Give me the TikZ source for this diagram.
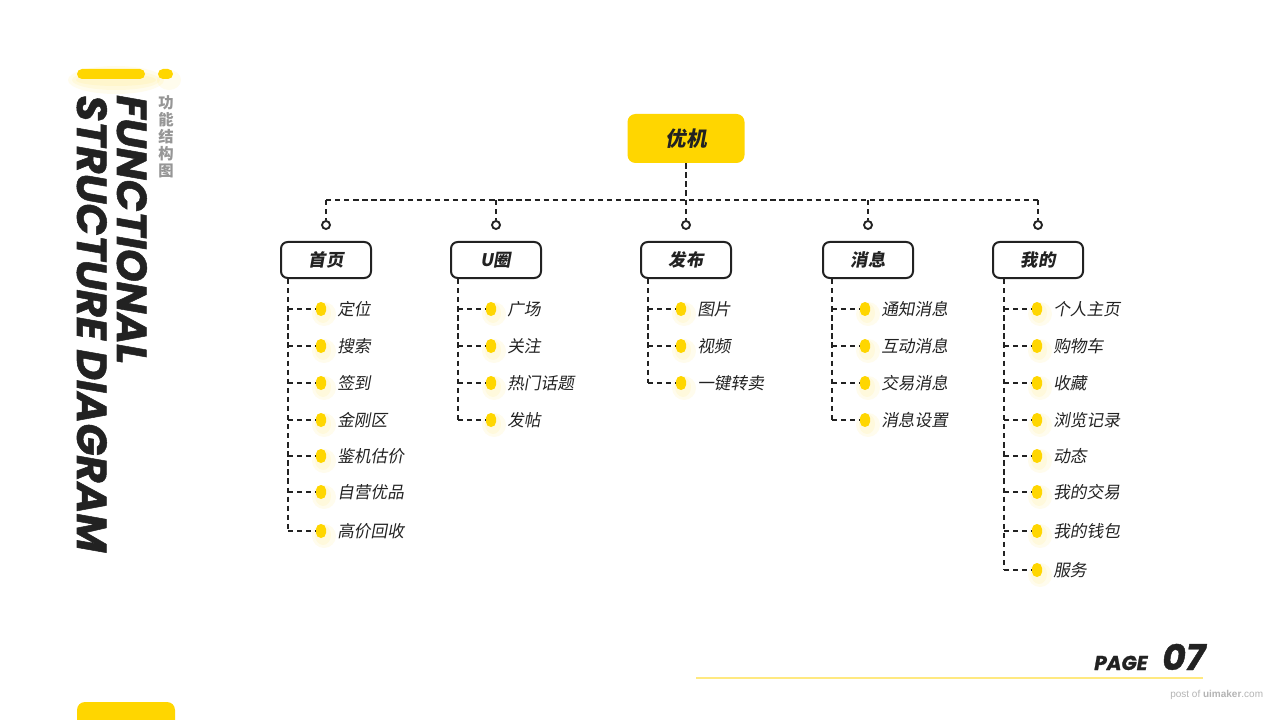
\documentclass[tikz,border=0pt]{standalone}
\usepackage{fontspec}
\usetikzlibrary{positioning}
\newfontfamily\cjk[FakeSlant=0.18]{Noto Sans CJK SC}
\newfontfamily\cjkup{Noto Sans CJK SC}
\newfontfamily\titlefont[FakeBold=1.2]{Poppins}
\newfontfamily\smallfont{Liberation Sans}
\definecolor{UMyellow}{RGB}{255,214,0}
\definecolor{UMpale}{RGB}{255,233,128}
\definecolor{UMdark}{RGB}{34,34,34}
\definecolor{UMgray}{RGB}{150,150,150}
\definecolor{UMlight}{RGB}{180,180,180}
\tikzset{
  root/.style={rounded corners=6pt,fill=UMyellow,minimum width=87.75pt,minimum height=36.75pt,
               font=\cjk\bfseries\fontsize{15.5}{15.5}\selectfont,text=UMdark},
  cat/.style={rounded corners=5pt,draw=UMdark,line width=1.5pt,fill=white,
              minimum width=67.5pt,minimum height=27pt,
              font=\cjk\bfseries\fontsize{13}{13}\selectfont,text=UMdark},
  pill/.style={rounded corners=3.75pt,fill=UMyellow,minimum width=7.5pt,minimum height=10.5pt,inner sep=0pt},
  item/.style={anchor=west,inner sep=0pt,font=\cjk\fontsize{12.5}{12.5}\selectfont,text=UMdark},
  link/.style={draw=UMdark,line width=1.6pt,dash pattern=on 4pt off 2.8pt},
  knob/.style={circle,draw=UMdark,line width=1.4pt,fill=white,minimum size=6pt,inner sep=0pt},
  halo/.style={fill=UMyellow,opacity=0.07},
  title/.style={rotate=-90,anchor=base west,inner sep=0pt,text=UMdark,
                font=\titlefont\bfseries\itshape\fontsize{31.5}{31.5}\selectfont}
}
\begin{document}
\begin{tikzpicture}[x=0.75pt,y=-0.75pt]
  \fill[white] (0,0) rectangle (1280,720);
  \useasboundingbox (0,0) rectangle (1280,720);
  % side title
  \foreach \r in {6,10,14} {\fill[halo] (116,80) ellipse ({\r+34} and \r);}
  \fill[UMyellow,rounded corners=3.75pt] (77,69) rectangle (145,79);
  \fill[halo] (169,80) ellipse (12 and 10);
  \fill[UMyellow,rounded corners=3.75pt] (158,69) rectangle (173,79);
  \node[title] (fn) at (117,95) {FUNCTIONAL};
  \node[title] (sd) at (77,95) {STRUCTURE DIAGRAM};
  \node[font=\cjkup\bfseries\fontsize{11.5}{12.75}\selectfont,text=UMgray,align=center,
        anchor=north,inner sep=0pt] (cn) at (166,95) {功\\能\\结\\构\\图};

  % tree
  \node[root] (uj) at (686,138.5) {优机};
  \foreach \id/\lbl/\cx/\lx/\items in {
    hm/首页/326/288/{定位,搜索,签到,金刚区,鉴机估价,自营优品,高价回收},
    qz/U圈/496/458/{广场,关注,热门话题,发帖},
    fb/发布/686/648/{图片,视频,一键转卖},
    xx/消息/868/832/{通知消息,互动消息,交易消息,消息设置},
    wd/我的/1038/1004/{个人主页,购物车,收藏,浏览记录,动态,我的交易,我的钱包,服务}}
  {
    \coordinate (top-\id) at (\cx,200);
    \node[knob] (knob-\id) at (\cx,225) {};
    \draw[link] (top-\id) -- (knob-\id);
    \node[cat] (cat-\id) at (\cx,260) {\lbl};
    \foreach \t [count=\k] in \items {
      \pgfmathsetmacro\yy{{309,346,383,420,456,492,531,570}[\k-1]}
      \fill[halo] (\lx+36,\yy+5) ellipse (12 and 12);
      \fill[halo] (\lx+35,\yy+4) ellipse (8 and 10);
      \coordinate (stem-\id-\k) at (\lx,\yy);
      \node[pill] (pill-\id-\k) at (\lx+33,\yy) {};
      \node[item] (txt-\id-\k) at (\lx+49,\yy) {\t};
      \draw[link] (stem-\id-\k) -- (pill-\id-\k);
      \global\let\nlast\k
    }
    \draw[link] (cat-\id.south -| stem-\id-1) -- (stem-\id-\nlast);
  }
  \draw[link] (top-hm) -- (top-wd);
  \draw[link] (uj) -- (uj |- top-hm);

  % footer
  \draw[UMpale,line width=1.5pt] (696,678) -- (1203,678);
  \node[anchor=base west,inner sep=0pt,text=UMdark,
        font=\titlefont\bfseries\itshape\fontsize{15}{15}\selectfont] (pg) at (1094,670) {PAGE};
  \node[anchor=base west,inner sep=0pt,text=UMdark,
        font=\titlefont\bfseries\itshape\fontsize{27}{27}\selectfont] (no) at (1162,670) {07};
  \node[anchor=base west,inner sep=0pt,text=UMlight,
        font=\smallfont\fontsize{7.5}{7.5}\selectfont] (src) at (1170,697) {post of \textbf{uimaker}.com};
  \fill[UMyellow,rounded corners=6pt] (77,740) rectangle (175,702);
\end{tikzpicture}
\end{document}
